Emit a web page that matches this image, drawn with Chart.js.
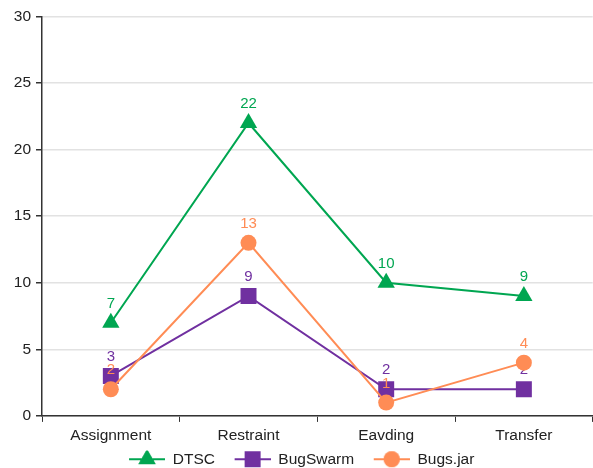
<!DOCTYPE html>
<html>
<head>
<meta charset="utf-8">
<script src="https://cdn.jsdelivr.net/npm/chart.js@4"></script>
<style>
  html, body { margin: 0; padding: 0; background: #fff; overflow: hidden; }
  #wrap { width: 604px; height: 477px; }
</style>
</head>
<body>
<div id="wrap"><canvas id="chart"></canvas></div>
<script>
const categories = ['Assignment', 'Restraint', 'Eavding', 'Transfer'];
const dtsc = [7, 22, 10, 9];
const bugSwarm = [3, 9, 2, 2];
const bugsJar = [2, 13, 1, 4];
const yTicks = [0, 5, 10, 15, 20, 25, 30];

const GREEN = '#00A651';
const PURPLE = '#7030A0';
const ORANGE = '#FF8C55';
const FONT = { family: 'Liberation Sans, Arial, sans-serif', size: 15.5 };

// legend swatch: small blank lead-in, then line with the marker on top
function swatch(color, style, radius) {
  const lead = 10;
  const c = document.createElement('canvas');
  c.width = 36 + lead; c.height = 22;
  const ctx = c.getContext('2d');
  ctx.strokeStyle = color;
  ctx.lineWidth = 2;
  ctx.beginPath(); ctx.moveTo(lead, 11); ctx.lineTo(lead + 36, 11); ctx.stroke();
  ctx.fillStyle = color;
  Chart.helpers.drawPoint(ctx, { pointStyle: style, radius: radius, borderWidth: 0 }, lead + 18, 11);
  ctx.fill();
  return c;
}

// value labels above each point, drawn right after its own dataset
const valueLabels = {
  id: 'valueLabels',
  afterDatasetDraw(chart, args) {
    const ds = chart.data.datasets[args.index];
    const ctx = chart.ctx;
    ctx.save();
    ctx.font = '15px ' + FONT.family;
    ctx.fillStyle = ds.borderColor;
    ctx.textAlign = 'center';
    ctx.textBaseline = 'middle';
    args.meta.data.forEach((pt, i) => {
      ctx.fillText(String(ds.data[i]), pt.x, pt.y - 19);
    });
    ctx.restore();
  }
};

const mk = (label, data, color, style, radius, order) => ({
  label, data, order,
  borderColor: color,
  backgroundColor: color,
  pointBackgroundColor: color,
  pointBorderColor: color,
  pointStyle: style,
  pointRadius: radius,
  pointHoverRadius: radius,
  pointBorderWidth: 0,
  borderWidth: 2,
  tension: 0
});

new Chart(document.getElementById('chart'), {
  type: 'line',
  data: {
    labels: categories,
    datasets: [
      mk('DTSC', dtsc, GREEN, 'triangle', 10, 2),
      mk('BugSwarm', bugSwarm, PURPLE, 'rect', 11.3, 1),
      mk('Bugs.jar', bugsJar, ORANGE, 'circle', 8, 0)
    ]
  },
  options: {
    responsive: true,
    maintainAspectRatio: false,
    animation: false,
    layout: { padding: { top: 16.5, right: 2, left: 0, bottom: 0 } },
    plugins: {
      tooltip: { enabled: false },
      legend: {
        position: 'bottom',
        labels: {
          color: '#222',
          font: FONT,
          usePointStyle: true,
          pointStyleWidth: 46,
          padding: 1,
          sort: (a, b) => a.datasetIndex - b.datasetIndex,
          generateLabels(chart) {
            const items = Chart.defaults.plugins.legend.labels.generateLabels(chart);
            items.forEach(it => {
              const ds = chart.data.datasets[it.datasetIndex];
              it.text = ds.label + '  ';
              it.pointStyle = swatch(ds.borderColor, ds.pointStyle, ds.pointRadius);
            });
            return items;
          }
        }
      }
    },
    scales: {
      x: {
        offset: true,
        grid: { offset: true, drawOnChartArea: false, tickLength: 6, tickColor: '#333' },
        border: { color: '#333', width: 1.5 },
        ticks: { color: '#222', font: FONT, padding: 5 }
      },
      y: {
        min: 0,
        max: 30,
        afterFit: s => { s.width = 42; },
        afterBuildTicks: s => { s.ticks = yTicks.map(v => ({ value: v })); },
        grid: { color: '#e2e2e2', tickColor: '#333', tickLength: 6, lineWidth: 1.5 },
        border: { color: '#333', width: 1.5 },
        ticks: { color: '#222', font: FONT, padding: 5 }
      }
    }
  },
  plugins: [valueLabels]
});
</script>
</body>
</html>
